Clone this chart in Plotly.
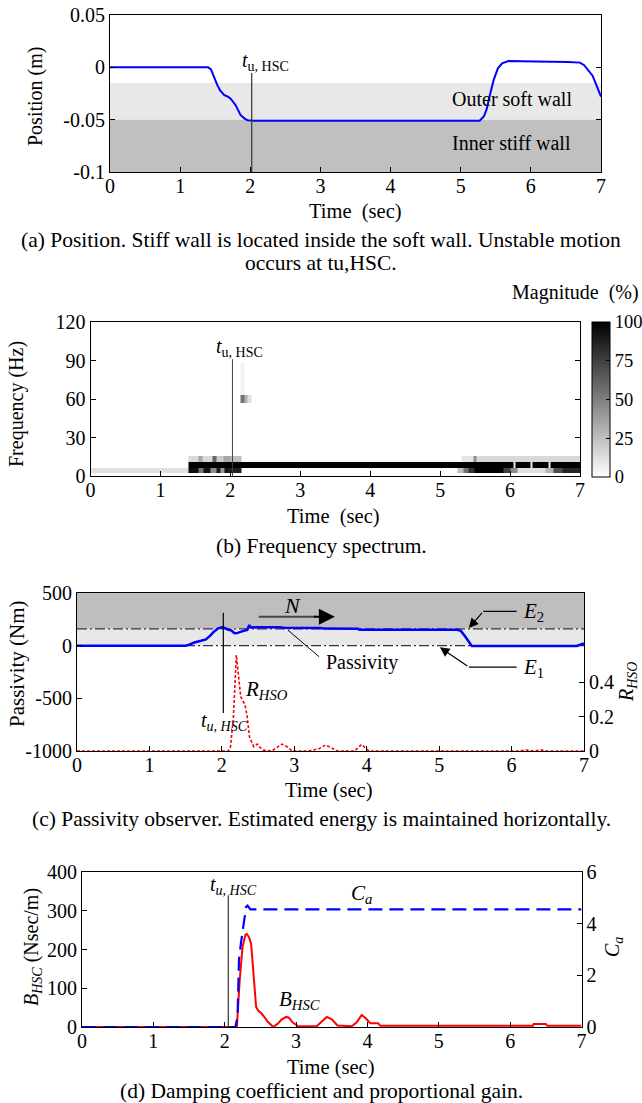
import plotly.graph_objects as go

W, H = 642, 1103
FONT = "Liberation Serif"

# ---------------- data ----------------
# (a) position
POS_T = [0, 1.40, 1.44, 1.48, 1.53, 1.57, 1.63, 1.68, 1.72, 1.79, 1.86, 1.92, 1.96, 2.05, 3.0, 4.0, 5.0,
         5.27, 5.33, 5.37, 5.41, 5.47, 5.53, 5.59, 5.68, 5.8, 6.06, 6.53, 6.62, 6.70, 6.76, 6.82, 6.88, 6.94, 7.0]
POS_Y = [0, 0, -0.002, -0.009, -0.017, -0.022, -0.0265, -0.028, -0.030, -0.036, -0.0455, -0.049, -0.0505,
         -0.051, -0.051, -0.051, -0.051, -0.051, -0.047, -0.040, -0.028, -0.012, -0.001, 0.0038, 0.006,
         0.006, 0.0055, 0.005, 0.0048, 0.0045, 0.002, -0.003, -0.008, -0.018, -0.028]
SOFT_WALL = -0.015
STIFF_WALL = -0.05
TU = 2.02

# (b) spectrogram (row edges in Hz, per-row segment boundaries & magnitudes %)
SPEC_ROW_EDGES = [0, 2, 6.4, 10.8, 15.2, 57, 63, 88, 120]
LOW_T = [0, 1.4, 1.55, 1.62, 1.72, 1.80, 1.86, 1.92, 1.97, 2.16, 5.25, 5.33, 5.41, 5.49, 5.9, 6.0, 6.1,
         6.5, 6.62, 6.75, 7.0]
LOW_V = [12, 95, 55, 92, 45, 88, 40, 92, 88, 0, 25, 55, 80, 100, 75, 45, 12, 30, 70, 85]
MID_T = [0, 1.4, 6.045, 6.075, 6.285, 6.315, 6.555, 6.585, 7.0]
MID_V = [0, 100, 8, 100, 8, 100, 8, 100]
UP_T = [0, 1.4, 1.55, 1.6, 1.75, 1.8, 1.9, 2.0, 2.16, 5.3, 5.47, 5.52, 7.0]
UP_V = [0, 15, 35, 15, 60, 20, 35, 25, 0, 10, 45, 15]
BLOB_T = [0, 2.15, 2.2, 2.25, 2.3, 7.0]
BLOB_V = [0, 55, 30, 12, 0]
FAINT_T = [0, 2.15, 2.2, 7.0]
FAINT_V = [0, 5, 0]
ZERO_T = [0, 7.0]
ZERO_V = [0]
TU_B = 2.03
TU_B_TOP = 91

# (c) passivity observer
PAS_T = [0, 1.5, 1.55, 1.62, 1.70, 1.78, 1.84, 1.89, 1.95, 2.0, 2.05, 2.09, 2.13, 2.17, 2.2, 2.25, 2.3,
         2.35, 2.37, 2.38, 2.40, 2.5, 2.8, 2.85, 3.37, 3.4, 3.88, 3.9, 5.25, 5.3, 5.36, 5.41, 5.45, 6.9, 7.0]
PAS_V = [0, 0, 10, 30, 45, 60, 95, 133, 165, 174, 165, 150, 145, 120, 117, 125, 140, 150, 180, 196, 172,
         175, 175, 170, 168, 162, 160, 152, 150, 140, 86, 30, -3, -3, 20]
R_T = [0, 2.09, 2.12, 2.16, 2.2, 2.23, 2.26, 2.29, 2.32, 2.35, 2.38, 2.44, 2.49, 2.53, 2.57, 2.69, 2.76,
       2.83, 2.9, 2.97, 3.2, 3.35, 3.43, 3.52, 3.6, 3.83, 3.93, 4.03, 6.1, 6.2, 6.3, 6.4, 6.5, 7.0]
R_V = [0, 0, 0.025, 0.2, 0.557, 0.42, 0.315, 0.29, 0.267, 0.2, 0.083, 0.025, 0.04, 0.02, 0.005, 0.0,
       0.02, 0.04, 0.025, 0.0, 0.0, 0.015, 0.035, 0.015, 0.0, 0.0, 0.038, 0.0, 0.0, 0.006, 0.0, 0.006,
       0.0, 0.0]
E1 = 0
E2 = 160
TU_C = 2.02
TU_C_RANGE = [-640, 313]

# (d) damping coefficient and gain
B_T = [0, 2.17, 2.19, 2.21, 2.25, 2.29, 2.31, 2.34, 2.37, 2.4, 2.44, 2.47, 2.51, 2.56, 2.6, 2.68, 2.74,
       2.8, 2.86, 2.9, 2.95, 3.03, 3.29, 3.36, 3.43, 3.5, 3.58, 3.78, 3.85, 3.92, 3.98, 4.04, 4.15, 4.18,
       6.32, 6.33, 6.5, 6.52, 7.0]
B_V = [0, 0, 60, 121, 207, 238, 240, 232, 215, 147, 52, 42, 36, 25, 14, 0, 8, 20, 26, 24, 12, 2, 2, 14,
       26, 20, 4, 2, 12, 31, 22, 10, 10, 3, 3, 8, 8, 3, 3]
C_T = [0, 2.15, 2.18, 2.2, 2.23, 2.25, 2.28, 2.3, 2.32, 2.34, 2.36, 7.0]
C_V = [0, 0, 0.4, 2.6, 3.3, 3.75, 4.3, 4.65, 4.7, 4.62, 4.55, 4.55]
TU_D = 2.05
TU_D_TOP = 340

X_TICKS = [0, 1, 2, 3, 4, 5, 6, 7]


def fx(p):
    return p / W


def fy(p):
    return 1 - p / H


def seg_value(T, V, t):
    for i in range(len(V)):
        if T[i] <= t < T[i + 1]:
            return V[i]
    return V[-1]


# build spectrogram grid from the segment lists
rows = [(ZERO_T, ZERO_V), (LOW_T, LOW_V), (MID_T, MID_V), (UP_T, UP_V), (ZERO_T, ZERO_V),
        (BLOB_T, BLOB_V), (FAINT_T, FAINT_V), (ZERO_T, ZERO_V)]
x_edges = sorted(set(LOW_T + MID_T + UP_T + BLOB_T + FAINT_T))
z = []
for T, V in rows:
    row = []
    for k in range(len(x_edges) - 1):
        m = 0.5 * (x_edges[k] + x_edges[k + 1])
        row.append(seg_value(T, V, m))
    z.append(row)

fig = go.Figure()

# ---- (a)
fig.add_trace(go.Scatter(x=POS_T, y=POS_Y, mode="lines", line=dict(color="#0000ff", width=2),
                         xaxis="x", yaxis="y", showlegend=False))

# ---- (b)
fig.add_trace(go.Heatmap(x=x_edges, y=SPEC_ROW_EDGES, z=z, zmin=0, zmax=100, zsmooth=False,
                         colorscale=[[0, "#ffffff"], [1, "#000000"]], xaxis="x2", yaxis="y2",
                         colorbar=dict(x=fx(592), xanchor="left", y=fy(399.5), yanchor="middle",
                                       len=155 / H, lenmode="fraction", thickness=18,
                                       thicknessmode="pixels", outlinewidth=1, outlinecolor="black",
                                       tickvals=[0, 25, 50, 75, 100], ticks="inside", ticklen=4,
                                       tickcolor="black", xpad=0, ypad=0,
                                       tickfont=dict(family=FONT, size=18.5, color="black"))))

# ---- (c)
fig.add_trace(go.Scatter(x=PAS_T, y=PAS_V, mode="lines", line=dict(color="#0000ff", width=2.5),
                         xaxis="x3", yaxis="y3", showlegend=False))
fig.add_trace(go.Scatter(x=R_T, y=R_V, mode="lines", line=dict(color="#ff0000", width=1.6, dash="3px,2px"),
                         xaxis="x3", yaxis="y4", showlegend=False))

# ---- (d)
fig.add_trace(go.Scatter(x=B_T, y=B_V, mode="lines", line=dict(color="#ff0000", width=2),
                         xaxis="x4", yaxis="y5", showlegend=False))
fig.add_trace(go.Scatter(x=C_T, y=C_V, mode="lines", line=dict(color="#0000ff", width=2.2, dash="14px,7px"),
                         xaxis="x4", yaxis="y6", showlegend=False))

tickfont = dict(family=FONT, size=20, color="black")
base = dict(showline=True, linecolor="black", linewidth=1, ticks="inside", ticklen=5, tickcolor="black",
            tickfont=tickfont, showgrid=False, zeroline=False, automargin=False)
xbase = dict(base, range=[0, 7], tickvals=X_TICKS, mirror=True, ticklabelstandoff=-4)

fig.update_layout(
    width=W, height=H, autosize=False, margin=dict(l=0, r=0, t=0, b=0, autoexpand=False),
    paper_bgcolor="white", plot_bgcolor="rgba(0,0,0,0)", showlegend=False,
    font=dict(family=FONT, size=20, color="black"),
    xaxis=dict(xbase, domain=[fx(110), fx(601)], anchor="y"),
    yaxis=dict(base, domain=[fy(172), fy(15)], anchor="x", range=[-0.1, 0.05],
               tickvals=[-0.1, -0.05, 0, 0.05], ticktext=["-0.1", "-0.05", "0", "0.05"], mirror="ticks"),
    xaxis2=dict(xbase, domain=[fx(90.5), fx(580)], anchor="y2"),
    yaxis2=dict(base, domain=[fy(476), fy(322)], anchor="x2", range=[0, 120],
                tickvals=[0, 30, 60, 90, 120], mirror="ticks"),
    xaxis3=dict(xbase, domain=[fx(77), fx(584)], anchor="y3"),
    yaxis3=dict(base, domain=[fy(751), fy(593)], anchor="x3", range=[-1000, 500],
                tickvals=[-1000, -500, 0, 500], ticktext=["-1000", "-500", "0", "500"]),
    yaxis4=dict(base, overlaying="y3", anchor="x3", side="right", range=[0, 0.916],
                tickvals=[0, 0.2, 0.4], ticktext=["0", "0.2", "0.4"]),
    xaxis4=dict(xbase, domain=[fx(82), fx(581.5)], anchor="y5"),
    yaxis5=dict(base, domain=[fy(1027), fy(872)], anchor="x4", range=[0, 400],
                tickvals=[0, 100, 200, 300, 400]),
    yaxis6=dict(base, overlaying="y5", anchor="x4", side="right", range=[0, 6],
                tickvals=[0, 2, 4, 6]),
)

shapes = [
    # (a) walls
    dict(type="rect", xref="x", yref="y", x0=0, x1=7, y0=STIFF_WALL, y1=SOFT_WALL, fillcolor="#e8e8e8",
         line=dict(width=0), layer="below"),
    dict(type="rect", xref="x", yref="y", x0=0, x1=7, y0=-0.1, y1=STIFF_WALL, fillcolor="#c0c0c0",
         line=dict(width=0), layer="below"),
    dict(type="line", xref="x", yref="y", x0=TU, x1=TU, y0=-0.0054, y1=-0.1,
         line=dict(color="#404040", width=1.3)),
    # (b)
    dict(type="line", xref="x2", yref="y2", x0=TU_B, x1=TU_B, y0=0, y1=TU_B_TOP,
         line=dict(color="#404040", width=1)),
    # (c) energy regions
    dict(type="rect", xref="x3", yref="y3", x0=0, x1=7, y0=E2, y1=500, fillcolor="#bebebe",
         line=dict(width=0), layer="below"),
    dict(type="rect", xref="x3", yref="y3", x0=0, x1=7, y0=E1, y1=E2, fillcolor="#e8e8e8",
         line=dict(width=0), layer="below"),
    dict(type="line", xref="x3", yref="y3", x0=0, x1=7, y0=E2, y1=E2,
         line=dict(color="#333333", width=1.2, dash="10px,3px,2px,3px"), layer="below"),
    dict(type="line", xref="x3", yref="y3", x0=0, x1=7, y0=E1, y1=E1,
         line=dict(color="#333333", width=1.2, dash="10px,3px,2px,3px"), layer="below"),
    dict(type="line", xref="x3", yref="y3", x0=TU_C, x1=TU_C, y0=TU_C_RANGE[0], y1=TU_C_RANGE[1],
         line=dict(color="black", width=1.2)),
    dict(type="line", xref="x3", yref="y3", x0=2.91, x1=3.34, y0=149, y1=-104,
         line=dict(color="black", width=1)),
    dict(type="line", xref="x3", yref="y3", x0=5.61, x1=6.07, y0=325, y1=325,
         line=dict(color="black", width=1.2)),
    dict(type="line", xref="x3", yref="y3", x0=5.41, x1=6.07, y0=-203, y1=-203,
         line=dict(color="black", width=1.2)),
    dict(type="line", xref="x3", yref="y3", x0=2.51, x1=3.3, y0=275, y1=275,
         line=dict(color="#444444", width=2)),
    # (d)
    dict(type="line", xref="x4", yref="y5", x0=TU_D, x1=TU_D, y0=0, y1=TU_D_TOP,
         line=dict(color="#333333", width=1.2)),
]
fig.update_layout(shapes=shapes)

ann = []


def txt(x, y, s, xref="paper", yref="paper", size=20, angle=0, xanchor="center"):
    ann.append(dict(x=x, y=y, xref=xref, yref=yref, text=s, showarrow=False, textangle=angle,
                    xanchor=xanchor, yanchor="middle", font=dict(family=FONT, size=size, color="black")))


NB = "\u00a0"
TU_UP = "<i>t</i><sub>u, HSC</sub>"
TU_IT = "<i>t<sub>u, HSC</sub></i>"
XT = 20.5
CAP = 21.5

# (a)
txt(2.21, 0.006, TU_UP, "x", "y")
txt(5.73, -0.030, "Outer soft wall", "x", "y")
txt(5.73, -0.072, "Inner stiff wall", "x", "y")
txt(fx(355), fy(211), "Time" + NB + NB + "(sec)", size=XT)
txt(fx(35), fy(97), "Position (m)", angle=-90)
txt(fx(321), fy(240), "(a) Position. Stiff wall is located inside the soft wall. Unstable motion", size=21.5)
txt(fx(321), fy(263), "occurs at tu,HSC.", size=21.5)
# (b)
txt(2.13, 100.5, TU_UP, "x2", "y2")
txt(fx(333), fy(516), "Time" + NB + NB + "(sec)", size=XT)
txt(fx(17), fy(404), "Frequency (Hz)", angle=-90)
txt(fx(641), fy(292), "Magnitude" + NB + NB + "(%)", xanchor="right")
txt(fx(322), fy(546), "(b) Frequency spectrum.", size=CAP)
# (c)
txt(2.03, -720, TU_IT, "x3", "y3")
txt(2.62, -421, "<i>R<sub>HSO</sub></i>", "x3", "y3", size=21)
txt(2.98, 377, "<i>N</i>", "x3", "y3", size=22)
txt(3.93, -160, "Passivity", "x3", "y3")
txt(6.30, 324, "<i>E</i><sub>2</sub>", "x3", "y3", size=21)
txt(6.30, -212, "<i>E</i><sub>1</sub>", "x3", "y3", size=21)
txt(fx(329), fy(790), "Time (sec)", size=XT)
txt(fx(17), fy(664), "Passivity (Nm)", angle=-90, size=21)
txt(fx(627), fy(682), "<i>R<sub>HSO</sub></i>", angle=-90)
txt(fx(321), fy(819), "(c) Passivity observer. Estimated energy is maintained horizontally.", size=CAP)
# (d)
txt(2.13, 366, TU_IT, "x4", "y5")
txt(3.91, 344, "<i>C<sub>a</sub></i>", "x4", "y5", size=21)
txt(3.05, 70, "<i>B<sub>HSC</sub></i>", "x4", "y5", size=21)
txt(fx(331), fy(1067), "Time (sec)", size=XT)
txt(fx(32), fy(947), "<i>B<sub>HSC</sub></i> (Nsec/m)", angle=-90)
txt(fx(613), fy(947), "<i>C<sub>a</sub></i>", angle=-90)
txt(fx(321), fy(1091), "(d) Damping coefficient and proportional gain.", size=CAP)

# arrows in (c)
ann.append(dict(x=3.56, y=275, ax=3.25, ay=275, xref="x3", yref="y3", axref="x3", ayref="y3", text="",
                showarrow=True, arrowhead=2, arrowsize=1.6, arrowwidth=2, arrowcolor="black", standoff=0))
ann.append(dict(x=5.41, y=168, ax=5.61, ay=325, xref="x3", yref="y3", axref="x3", ayref="y3", text="",
                showarrow=True, arrowhead=2, arrowsize=1.6, arrowwidth=1.2, arrowcolor="black", standoff=0))
ann.append(dict(x=5.01, y=-15, ax=5.41, ay=-203, xref="x3", yref="y3", axref="x3", ayref="y3", text="",
                showarrow=True, arrowhead=2, arrowsize=1.6, arrowwidth=1.2, arrowcolor="black", standoff=0))

fig.update_layout(annotations=ann)
fig.write_html("out.html", config={"displayModeBar": False},
               post_script="document.body.style.margin='0px';")
